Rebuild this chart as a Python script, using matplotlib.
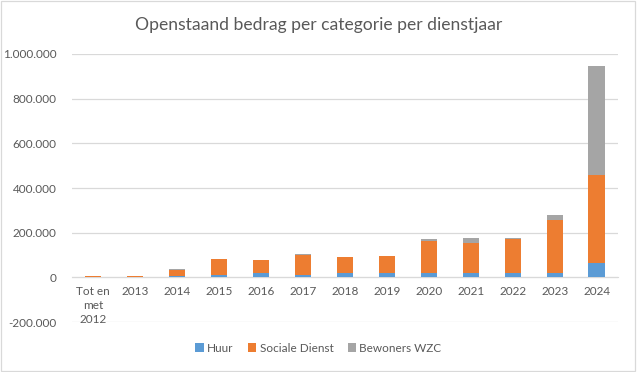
import matplotlib.pyplot as plt
import numpy as np
from matplotlib.patches import Rectangle
from matplotlib.ticker import FuncFormatter

plt.rcParams['font.family'] = ['Lato', 'DejaVu Sans']

# data
jaren = ['Tot en\nmet\n2012', '2013', '2014', '2015', '2016', '2017', '2018',
         '2019', '2020', '2021', '2022', '2023', '2024']
huur = [1000, 1000, 5000, 11000, 19000, 10000, 19000, 18000, 18000, 22000, 18000, 21000, 66000]
sociale_dienst = [5000, 4000, 29000, 71000, 58000, 89000, 72000, 76000, 143000, 134000, 155000, 238000, 394000]
bewoners_wzc = [0, 0, 3000, 0, 0, 4000, 0, 4000, 9000, 22000, 5000, 22000, 486000]

kleur = {'Huur': '#5B9BD5', 'Sociale Dienst': '#ED7D31', 'Bewoners WZC': '#A5A5A5'}
tekst = '#595959'

fig = plt.figure(figsize=(6.37, 3.72), dpi=100)
ax = fig.add_axes([0.113, 0.134, 0.857, 0.721])

x = np.arange(len(jaren))
b = 0.4
ax.bar(x, huur, b, color=kleur['Huur'], label='Huur', zorder=3)
ax.bar(x, sociale_dienst, b, bottom=huur, color=kleur['Sociale Dienst'],
       label='Sociale Dienst', zorder=3)
onder = np.array(huur) + np.array(sociale_dienst)
ax.bar(x, bewoners_wzc, b, bottom=onder, color=kleur['Bewoners WZC'],
       label='Bewoners WZC', zorder=3)

ax.set_xlim(-0.5, len(jaren) - 0.5)
ax.set_ylim(-200000, 1000000)
ax.set_yticks(np.arange(-200000, 1000001, 200000))
ax.yaxis.set_major_formatter(FuncFormatter(lambda v, p: f'{int(v):,}'.replace(',', '.')))
ax.grid(axis='y', color='#D9D9D9', linewidth=0.9, zorder=0)

for s in ['top', 'right', 'left']:
    ax.spines[s].set_visible(False)
ax.spines['bottom'].set_position(('data', 0))
ax.spines['bottom'].set_color('#D9D9D9')
ax.spines['bottom'].set_zorder(2)

ax.set_xticks(x)
ax.set_xticklabels(jaren, linespacing=1.35)
ax.tick_params(axis='both', length=0, colors=tekst, labelsize=8.5)
ax.tick_params(axis='y', pad=11)
ax.tick_params(axis='x', pad=6)

fig.suptitle('Openstaand bedrag per categorie per dienstjaar', x=0.5, y=0.955,
             fontsize=12.6, color=tekst)

fig.legend(loc='center', bbox_to_anchor=(0.5, 0.064), ncol=3, frameon=False,
           fontsize=8.5, labelcolor=tekst, handlelength=0.7, handleheight=0.7,
           handletextpad=0.3, columnspacing=1.2)

fig.patches.append(Rectangle((0.002, 0.003), 0.995, 0.993, transform=fig.transFigure,
                             fill=False, edgecolor='#D9D9D9', linewidth=0.9))

fig.savefig('out.png', dpi=100)
